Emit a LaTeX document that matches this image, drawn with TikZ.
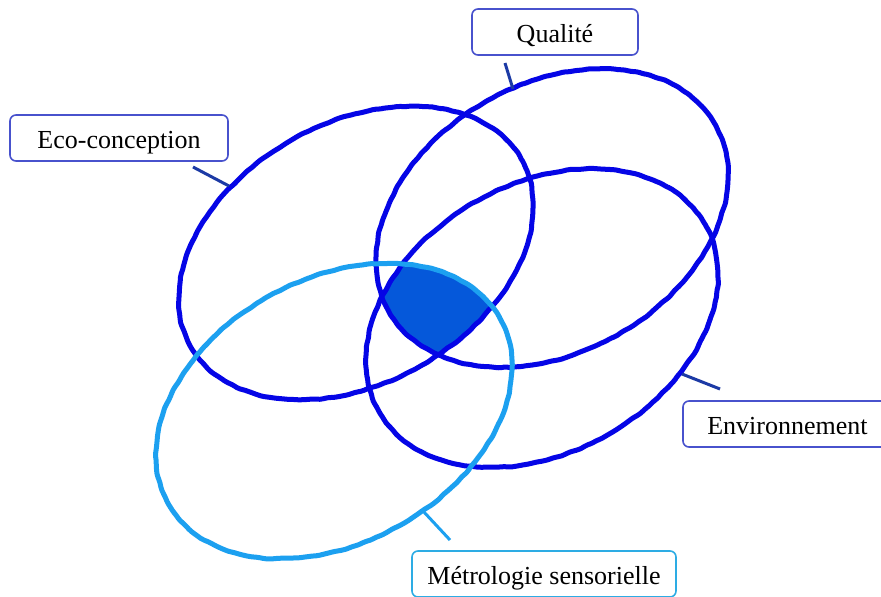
\documentclass[tikz,border=0pt]{standalone}
\usepackage{fontspec}
\setmainfont{Liberation Serif}
\usetikzlibrary{decorations.pathmorphing}
\definecolor{ringblue}{RGB}{5,5,230}
\definecolor{ringlight}{RGB}{28,160,240}
\definecolor{corefill}{RGB}{5,88,218}
\definecolor{linkblue}{RGB}{28,58,165}
\definecolor{boxblue}{RGB}{72,82,205}
\definecolor{boxlight}{RGB}{45,172,228}
\begin{document}
\begin{tikzpicture}[x=1pt,y=-1pt,
  wobble/.style={decorate, decoration={random steps, segment length=5pt, amplitude=0.6pt}},
  ring/.style={line width=5pt, draw=ringblue, line join=round, rounded corners=2pt, wobble},
  ringlt/.style={ring, draw=ringlight},
  link/.style={line width=3pt, draw=linkblue},
  linklt/.style={link, draw=ringlight},
  tag/.style={draw=boxblue, line width=1.6pt, rounded corners=6pt, fill=white,
    font=\fontsize{26}{30}\selectfont, minimum height=46pt, inner sep=0pt,
    text height=24pt, text depth=3pt, text=black},
  taglt/.style={tag, draw=boxlight}
]
\useasboundingbox (0,0) rectangle (881,597);
\fill[white] (0,0) rectangle (881,597);
\clip (0,0) rectangle (881,597);

% centres of the four ellipses
\coordinate (cEco) at (356,253);
\coordinate (cQual) at (552,218);
\coordinate (cEnv) at (542,318);
\coordinate (cMet) at (334,411);

% common core
\begin{scope}
  \clip[rotate around={29.5:(cEco)}] (cEco) ellipse [x radius=190pt, y radius=130pt];
  \clip[rotate around={30:(cQual)}] (cQual) ellipse [x radius=188pt, y radius=134pt];
  \clip[rotate around={30:(cEnv)}] (cEnv) ellipse [x radius=188pt, y radius=134pt];
  \clip[rotate around={29:(cMet)}] (cMet) ellipse [x radius=190pt, y radius=132pt];
  \fill[corefill] (0,0) rectangle (881,597);
\end{scope}

% ellipses
\draw[ring, rotate around={29.5:(cEco)}] (cEco) ellipse [x radius=190pt, y radius=130pt];
\draw[ring, rotate around={30:(cQual)}] (cQual) ellipse [x radius=188pt, y radius=134pt];
\draw[ring, rotate around={30:(cEnv)}] (cEnv) ellipse [x radius=188pt, y radius=134pt];
\draw[ringlt, rotate around={29:(cMet)}] (cMet) ellipse [x radius=190pt, y radius=132pt];

% labels
\node[tag, minimum width=218pt] (eco) at (119,138) {Eco-conception};
\node[tag, minimum width=166pt] (qual) at (555,32) {Qualité};
\node[tag, minimum width=209pt] (env) at (787.5,424) {Environnement};
\node[taglt, minimum width=264pt] (met) at (544,574) {Métrologie sensorielle};

% connectors
\coordinate (ecoA) at (193,167);
\coordinate (ecoB) at (229,186);
\coordinate (qualA) at (505,63);
\coordinate (qualB) at (513,89);
\coordinate (envA) at (720,389);
\coordinate (envB) at (682,374);
\coordinate (metA) at (450,540);
\coordinate (metB) at (423,511);
\draw[link] (ecoA) -- (ecoB);
\draw[link] (qualA) -- (qualB);
\draw[link] (envA) -- (envB);
\draw[linklt] (metA) -- (metB);
\end{tikzpicture}
\end{document}
